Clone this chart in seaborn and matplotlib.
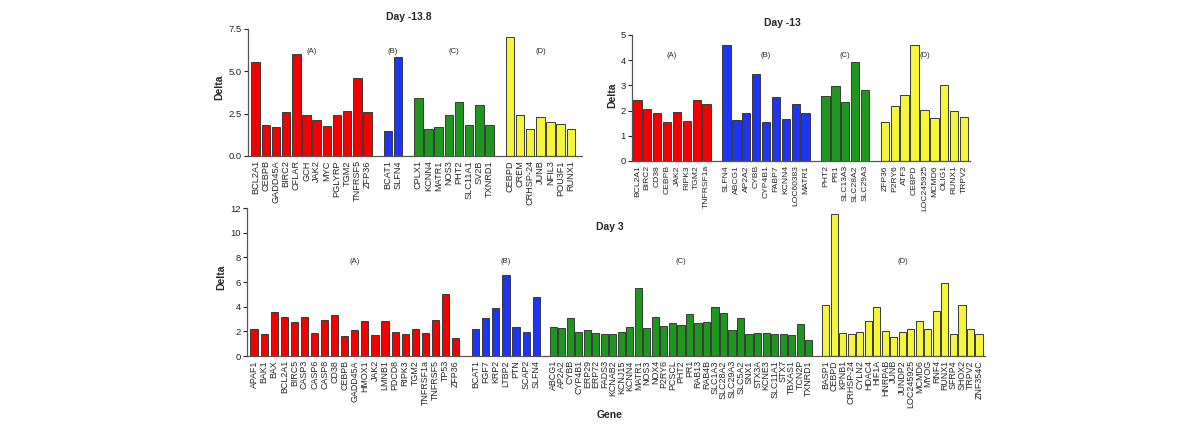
import matplotlib
matplotlib.use("Agg")
import matplotlib.pyplot as plt
import seaborn as sns
import pandas as pd

# ---- Day -13.8 ----
d138_genes = [
    ["BCL2A1", "CEBPB", "GADD45A", "BIRC2", "CFLAR", "GCH", "JAK2", "MYC", "PGLYRP", "TGM2", "TNFRSF5", "ZFP36"],
    ["BCAT1", "SLFN4"],
    ["CPLX1", "KCNN4", "MATR1", "NOS3", "PHT2", "SLC11A1", "SV2B", "TXNRD1"],
    ["CEBPD", "CREM", "CRHSP-24", "JUNB", "NFIL3", "POU3F1", "RUNX1"],
]
d138_delta = [
    [5.53, 1.85, 1.7, 2.6, 6.02, 2.4, 2.1, 1.8, 2.4, 2.68, 4.58, 2.6],
    [1.5, 5.82],
    [3.4, 1.6, 1.7, 2.4, 3.2, 1.82, 3.0, 1.82],
    [7.02, 2.41, 1.6, 2.3, 2.0, 1.88, 1.6],
]

# ---- Day -13 ----
d13_genes = [
    ["BCL2A1", "BIRC2", "CD38", "CEBPB", "JAK2", "RIPK3", "TGM2", "TNFRSF1a"],
    ["SLFN4", "ABCG1", "AP2A2", "CYBB", "CYP4B1", "FABP7", "KCNN4", "LOC60383", "MATR1"],
    ["PHT2", "PR1", "SLC13A3", "SLC28A2", "SLC29A3"],
    ["ZFP36", "P2RY6", "ATF3", "CEBPD", "LOC245925", "MCMD6", "OLIG1", "RUNX1", "TRPV2"],
]
d13_delta = [
    [2.41, 2.05, 1.91, 1.55, 1.94, 1.59, 2.41, 2.27],
    [4.62, 1.62, 1.9, 3.46, 1.54, 2.52, 1.66, 2.27, 1.9],
    [2.59, 2.97, 2.34, 3.92, 2.82],
    [1.53, 2.18, 2.62, 4.62, 2.02, 1.7, 3.0, 2.0, 1.74],
]

# ---- Day 3 ----
d3_genes = [
    ["APAF1", "BAK1", "BAX", "BCL2A1", "BIRC5", "CASP3", "CASP6", "CASP8", "CD38", "CEBPB", "GADD45A",
     "HMOX1", "JAK2", "LMNB1", "PDCD8", "RIPK3", "TGM2", "TNFRSF1a", "TNFRSF5", "TP53", "ZFP36"],
    ["BCAT1", "FGF7", "KRP2", "LTBP2", "PTN", "SCAP2", "SLFN4"],
    ["ABCG1", "AP2A2", "CYBB", "CYP4B1", "ERP29", "ERP72", "FADS3", "KCNAB2", "KCNJ15", "KCNN4", "MATR1",
     "NOS3", "NOX4", "P2RY6", "PCSCL", "PHT2", "PR1", "RAB13", "RAB4B", "SLC1A3", "SLC28A2", "SLC29A3",
     "SLC5A2", "SNX1", "STX3A", "KCNE3", "SLC11A1", "STX7", "TBXAS1", "TCN2P", "TXNRD1"],
    ["BASP1", "CEBPD", "KPNB1", "CRHSP-24", "CYLN2", "HDAC4", "HIF1A", "HNRPAB", "JUNB", "JUNDP2",
     "LOC245925", "MCMD6", "MYOG", "RNF4", "RUNX1", "SFRP4", "SHOX2", "TRPV2", "ZNF354C"],
]
d3_delta = [
    [2.2, 1.81, 3.54, 3.19, 2.76, 3.16, 1.89, 2.92, 3.32, 1.6, 2.08,
     2.83, 1.68, 2.83, 1.93, 1.8, 2.2, 1.84, 2.9, 5.03, 1.47],
    [2.15, 3.1, 3.9, 6.55, 2.34, 1.96, 4.8],
    [2.34, 2.25, 3.12, 1.96, 2.07, 1.85, 1.82, 1.79, 1.96, 2.34, 5.5,
     2.28, 3.18, 2.45, 2.66, 2.55, 3.42, 2.66, 2.74, 3.94, 3.45, 2.12,
     3.12, 1.79, 1.85, 1.85, 1.82, 1.79, 1.68, 2.63, 1.33],
    [4.1, 11.55, 1.85, 1.77, 1.96, 2.85, 3.94, 2.01, 1.52, 1.93,
     2.17, 2.85, 2.2, 3.61, 5.95, 1.82, 4.16, 2.17, 1.79],
]

group_names = ["(A)", "(B)", "(C)", "(D)"]
colors = ["#f50000", "#1e35f5", "#1f961f", "#f5f53a"]

sns.set_theme(style="ticks")
plt.rcParams["font.family"] = ["Liberation Sans", "DejaVu Sans"]

fig = plt.figure(figsize=(12, 4.28), dpi=100)
W, H = 1200, 428


def px_axes(x0, y0, x1, y1):
    ax = fig.add_axes([x0 / W, 1 - y1 / H, (x1 - x0) / W, (y1 - y0) / H])
    ax.patch.set_alpha(0)
    return ax


def panel(ax, genes, deltas, steps, ymax, yticks, ylab_fmt, label_y, tick_fs, xpad):
    rows = []
    pos = 0.0
    centers = []
    for gi, (gg, dd) in enumerate(zip(genes, deltas)):
        step = steps[gi]
        if gi > 0:
            pos += 2 * step
        start = pos
        for k, (g, d) in enumerate(zip(gg, dd)):
            if k > 0:
                pos += step
            rows.append({"gene": g, "delta": d, "group": group_names[gi], "pos": round(pos, 4)})
        centers.append((start + pos) / 2)
    df = pd.DataFrame(rows)
    sns.barplot(data=df, x="pos", y="delta", hue="group", palette=colors,
                native_scale=True, dodge=False, width=0.84, legend=False,
                saturation=1, edgecolor="#3a3a3a", linewidth=0.7, ax=ax)
    ax.set_xlim(-xpad[0], df["pos"].iloc[-1] + xpad[1])
    ax.set_ylim(0, ymax)
    ax.set_yticks(yticks)
    ax.set_yticklabels([ylab_fmt.format(v) for v in yticks], fontsize=6.8)
    ax.set_xticks(df["pos"])
    ax.set_xticklabels(df["gene"], rotation=90, fontsize=tick_fs)
    ax.tick_params(axis="x", length=0, pad=3)
    ax.tick_params(axis="y", length=3, width=0.8, pad=1.5, colors="#222222")
    ax.set_xlabel("")
    ax.set_ylabel("")
    for s in ["top", "right"]:
        ax.spines[s].set_visible(False)
    for s in ["left", "bottom"]:
        ax.spines[s].set_linewidth(0.9)
        ax.spines[s].set_color("#555555")
    for c, name in zip(centers, group_names):
        ax.text(c, label_y, name, ha="center", va="center", fontsize=5.5)


ax1 = px_axes(248, 29, 582, 156)
panel(ax1, d138_genes, d138_delta, [1, 1, 1, 1], 7.5, [0, 2.5, 5, 7.5], "{:.1f}", 6.2, 6.6, (0.76, 1.1))

ax2 = px_axes(632, 35, 970, 161)
panel(ax2, d13_genes, d13_delta, [1, 1, 1, 1], 5, [0, 1, 2, 3, 4, 5], "{:.0f}", 4.17, 6.1, (0.54, 0.6))

ax3 = px_axes(247, 208, 985, 356)
panel(ax3, d3_genes, d3_delta, [1, 1, 0.845, 0.845], 12, [0, 2, 4, 6, 8, 10, 12], "{:.0f}", 7.7, 6.4, (0.7, 0.6))

fig.text(409 / W, 1 - 17 / H, "Day -13.8", ha="center", va="center", fontsize=7.5, fontweight="bold")
fig.text(782 / W, 1 - 23 / H, "Day -13", ha="center", va="center", fontsize=7.5, fontweight="bold")
fig.text(610 / W, 1 - 227 / H, "Day 3", ha="center", va="center", fontsize=7.5, fontweight="bold")
fig.text(610 / W, 1 - 415 / H, "Gene", ha="center", va="center", fontsize=7.5, fontweight="bold")
for x, y in [(219, 87), (612, 95), (221, 277)]:
    fig.text(x / W, 1 - y / H, "Delta", ha="center", va="center", rotation=90,
             fontsize=7.5, fontweight="bold")

fig.savefig("out.png", dpi=100)
